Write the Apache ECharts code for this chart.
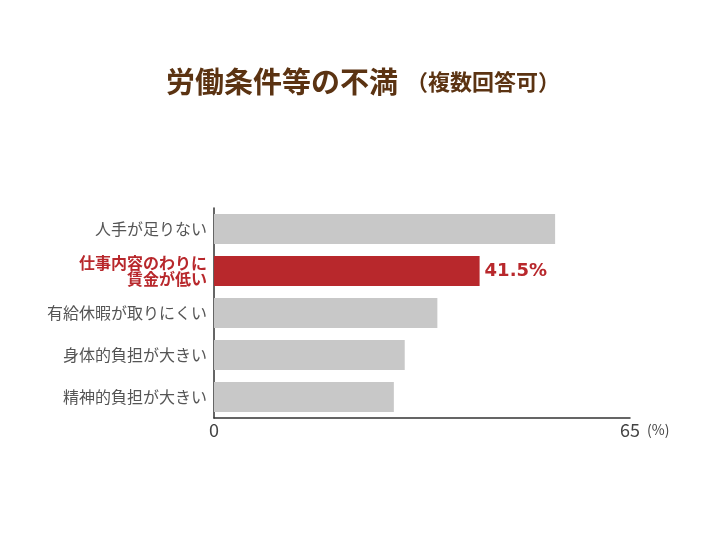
<!DOCTYPE html>
<html><head><meta charset="utf-8">
<script src="https://cdn.jsdelivr.net/npm/echarts@6/dist/echarts.min.js"></script>
<style>html,body{margin:0;padding:0;background:#fff}#c{width:726px;height:545px}</style>
</head><body><div id="c"></div>
<script>
const categories = ['人手が足りない', '仕事内容のわりに\n賃金が低い', '有給休暇が取りにくい', '身体的負担が大きい', '精神的負担が大きい'];
const values = [53.3, 41.5, 34.9, 29.8, 28.1];
const highlightIndex = 1;
const axisTicks = [0, 65];

const FONT = '"Noto Sans CJK JP", "Noto Sans", sans-serif';
const chart = echarts.init(document.getElementById('c'));
chart.setOption({
  backgroundColor: '#fff',
  title: {
    text: '労働条件等の不満{s|（複数回答可）}',
    left: 'center', top: 62,
    textStyle: {
      fontFamily: FONT, fontSize: 29, fontWeight: 'bold', color: '#5b3312',
      rich: { s: { fontFamily: FONT, fontSize: 22, fontWeight: 'bold', color: '#5b3312', padding: [0, 0, 0, 8] } }
    }
  },
  grid: { left: 214, right: 96, top: 208, bottom: 127, containLabel: false },
  xAxis: {
    type: 'value', min: axisTicks[0], max: axisTicks[1], interval: 65,
    splitLine: { show: false },
    axisLine: { show: true, lineStyle: { color: '#333', width: 1.5 } },
    axisTick: { show: false },
    axisLabel: { fontFamily: FONT, fontSize: 18, color: '#444', margin: 3 },
    name: '(%)', nameLocation: 'end', nameGap: 17,
    nameTextStyle: { fontFamily: FONT, fontSize: 14, color: '#444', verticalAlign: 'top', padding: [5, 0, 0, 0] }
  },
  yAxis: {
    type: 'category', data: categories, inverse: true,
    axisLine: { show: true, lineStyle: { color: '#333', width: 1.5 } },
    axisTick: { show: false },
    axisLabel: {
      fontFamily: FONT, fontSize: 16, color: '#555', margin: 7, lineHeight: 16,
      formatter: (v, i) => i === highlightIndex ? '{h|' + v.split('\n').join('}\n{h|') + '}' : v,
      rich: { h: { fontFamily: FONT, fontSize: 16, fontWeight: 'bold', color: '#b8282c', lineHeight: 16, align: 'right' } }
    }
  },
  series: [{
    type: 'bar', barWidth: 30,
    data: values.map((v, i) => ({
      value: v,
      itemStyle: { color: i === highlightIndex ? '#b8282c' : '#c8c8c8' },
      label: i === highlightIndex ? {
        show: true, position: 'right', distance: 5, formatter: '{c}%',
        fontFamily: '"DejaVu Sans", sans-serif', fontSize: 18, fontWeight: 'bold', color: '#b8282c'
      } : { show: false }
    })),
    silent: true, animation: false
  }]
});
</script></body></html>
